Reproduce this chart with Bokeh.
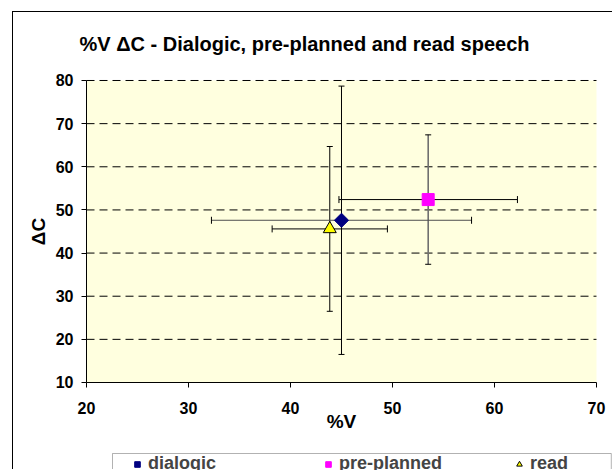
from bokeh.plotting import figure
from bokeh.models import Range1d, FixedTicker, Legend, LegendItem, ColumnDataSource, BoxAnnotation
from bokeh.core.properties import value
from bokeh.embed import file_html
from bokeh.resources import INLINE
import math

# ---- data ----
categories = ["dialogic", "pre-planned", "read"]
v_mean = [45.0, 53.5, 43.85]      # %V
v_err = [12.75, 8.75, 5.65]
c_mean = [47.6, 52.4, 45.6]       # delta C
c_err = [31.1, 15.0, 19.1]
x_ticks = [20, 30, 40, 50, 60, 70]
y_ticks = [10, 20, 30, 40, 50, 60, 70, 80]
grid_y = [20, 30, 40, 50, 60, 70, 80]

FONT = "Liberation Sans"
X0, X1, Y0, Y1 = 20, 70, 10, 80

# the frame covers (almost) the whole figure so that axis texts and legend are not clipped
p = figure(width=600, height=458, x_range=Range1d(12.843, 71.667), y_range=Range1d(-10.40, 83.245),
           output_backend="svg", toolbar_location=None,
           min_border_left=0, min_border_right=0, min_border_top=54, min_border_bottom=0,
           title="%V \u0394C - Dialogic, pre-planned and read speech")
p.styles = {"margin-left": "12px", "margin-top": "11px",
            "border-left": "1px solid #000", "border-top": "1px solid #000"}

p.title.text_font = FONT
p.title.text_font_style = "bold"
p.title.text_font_size = "20px"
p.title.align = "left"
p.title.offset = 66
p.title.standoff = 24
p.title.text_color = "black"

p.background_fill_color = "white"
p.border_fill_color = "white"
p.outline_line_color = None
p.grid.grid_line_color = None

# plot area fill
p.add_layout(BoxAnnotation(left=X0, right=X1, bottom=Y0, top=Y1, fill_color="#FFFFDF",
                           fill_alpha=1, line_color=None, level="image"))
# dashed horizontal gridlines across the plot area only
p.segment(x0=[X0] * len(grid_y), x1=[X1] * len(grid_y), y0=grid_y, y1=grid_y,
          line_color="black", line_width=1, line_dash="8 5", level="underlay")

for ax, ticks in ((p.xaxis[0], x_ticks), (p.yaxis[0], y_ticks)):
    ax.ticker = FixedTicker(ticks=ticks)
    ax.minor_tick_line_color = None
    ax.major_tick_in = 0
    ax.major_tick_out = 5
    ax.axis_line_color = "black"
    ax.major_tick_line_color = "black"
    ax.major_label_text_font = FONT
    ax.major_label_text_font_style = "bold"
    ax.major_label_text_font_size = "16px"
    ax.major_label_text_color = "black"

p.yaxis.bounds = (Y0, Y1)
p.xaxis.bounds = (X0, X1)
p.yaxis.fixed_location = X0
p.xaxis.fixed_location = Y0
p.xaxis.major_label_standoff = 15
p.yaxis.major_label_standoff = 8

# axis titles
p.text(x=[(X0 + X1) / 2], y=[0.9], text=["%V"], text_font=value(FONT), text_font_style="bold",
       text_font_size="19px", text_align="center", text_baseline="middle", text_color="black")
p.text(x=[15.3], y=[(Y0 + Y1) / 2], text=["\u0394C"], angle=math.pi / 2, text_font=value(FONT),
       text_font_style="bold", text_font_size="19px", text_align="center",
       text_baseline="middle", text_color="black")

src = ColumnDataSource(dict(
    cat=categories, x=v_mean, y=c_mean,
    xl=[m - e for m, e in zip(v_mean, v_err)], xr=[m + e for m, e in zip(v_mean, v_err)],
    yb=[m - e for m, e in zip(c_mean, c_err)], yt=[m + e for m, e in zip(c_mean, c_err)],
    vcol=["black", "#707070", "black"], vw=[1, 1.6, 1],
    hcol=["#505050", "black", "black"],
))

# error bars
p.segment(x0="x", y0="yb", x1="x", y1="yt", source=src, line_color="vcol", line_width="vw")
p.segment(x0="xl", y0="y", x1="xr", y1="y", source=src, line_color="hcol", line_width=1)
p.scatter(x="x", y="yb", source=src, marker="dash", size=6, line_color="black")
p.scatter(x="x", y="yt", source=src, marker="dash", size=6, line_color="black")
p.scatter(x="xl", y="y", source=src, marker="dash", angle=math.pi / 2, size=7, line_color="black")
p.scatter(x="xr", y="y", source=src, marker="dash", angle=math.pi / 2, size=7, line_color="black")

# markers
r1 = p.scatter(x=[v_mean[0]], y=[c_mean[0]], marker="square", angle=math.pi / 4, size=10,
               fill_color="#000080", line_color="#000080")
r2 = p.scatter(x=[v_mean[1]], y=[c_mean[1]], marker="square", size=12,
               fill_color="#FF00FF", line_color="#FF00FF")
r3 = p.scatter(x=[v_mean[2]], y=[c_mean[2]], marker="triangle", size=13,
               fill_color="#FFFF00", line_color="black")

# legend frame (runs off the bottom/right of the picture, as in the reference)
p.add_layout(BoxAnnotation(left=22.55, right=71.45, top=-6.46, bottom=-20, fill_color="white",
                           fill_alpha=1, line_color="black", line_width=1, level="overlay"))

legend = Legend(items=[LegendItem(label=categories[0], renderers=[r1]),
                       LegendItem(label=categories[1], renderers=[r2]),
                       LegendItem(label=categories[2], renderers=[r3])],
                orientation="horizontal", location=(117, -4),
                label_text_font=FONT, label_text_font_style="bold", label_text_font_size="18px",
                border_line_color=None, background_fill_alpha=0,
                spacing=53, glyph_width=14, glyph_height=14, label_standoff=4,
                label_width=120, padding=3, margin=0)
p.add_layout(legend, "center")

open("out.html", "w").write(file_html(p, INLINE))
